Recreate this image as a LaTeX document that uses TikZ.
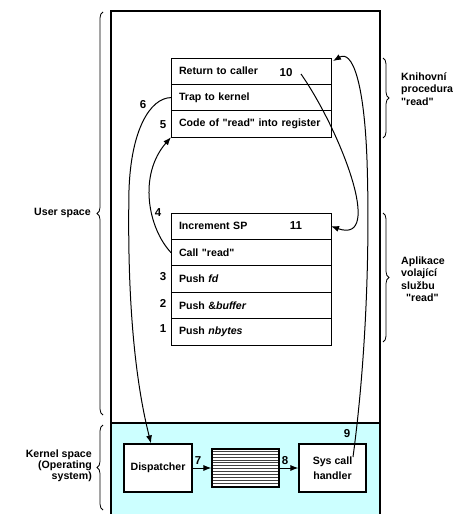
\documentclass[tikz,border=0pt]{standalone}
\usepackage{fontspec}
\setmainfont{Liberation Sans}[Ligatures=TeXOff]
\usetikzlibrary{arrows.meta, positioning, patterns, decorations.pathreplacing, calc}
\definecolor{kernelcyan}{HTML}{CCFFFF}

\begin{document}
\begin{tikzpicture}[
    x=1bp, y=-1bp,
    font=\fontsize{10.6bp}{11bp}\selectfont\bfseries,
    cell/.style={draw, line width=0.9bp, outer sep=0pt, minimum width=160bp, minimum height=26.4bp, text width=144bp, inner xsep=8bp, inner ysep=0pt, align=left},
    kbox/.style={draw, line width=1.1bp, fill=white, minimum width=68bp, minimum height=48bp, align=center, inner sep=1bp, font=\fontsize{10.6bp}{15bp}\selectfont\bfseries},
    num/.style={inner sep=0pt, font=\fontsize{11.5bp}{12bp}\selectfont\bfseries},
    side/.style={inner sep=0pt, font=\fontsize{10.6bp}{12.5bp}\selectfont\bfseries},
    flow/.style={-{Latex[length=8bp,width=6bp]}, line width=1bp},
    curly/.style={decorate, decoration={brace, amplitude=6bp}, line width=0.8bp},
]
    \useasboundingbox (0,0) rectangle (459,514);

    % kernel area and frame
    \fill[kernelcyan] (111,423) rectangle (380,514);
    \draw[line width=1.3bp] (111,514) -- (111,11) -- (380,11) -- (380,514);
    \draw[line width=1.3bp] (111,423) -- (380,423);

    % library procedure "read"
    \node[cell] (ret) at (251,71.2) {Return to caller};
    \node[cell, below=0pt of ret] (trap) {Trap to kernel};
    \node[cell, below=0pt of trap] (code) {Code of "read" into register};

    % calling application
    \node[cell] (inc) at (251,226.2) {Increment SP};
    \node[cell, below=0pt of inc] (call) {Call "read"};
    \node[cell, below=0pt of call] (pfd) {Push \textit{fd}};
    \node[cell, below=0pt of pfd] (pbuf) {Push \&\textit{buffer}};
    \node[cell, below=0pt of pbuf] (pnb) {Push \textit{nbytes}};

    % kernel boxes
    \node[kbox] (disp) at (158,468) {Dispatcher};
    \node[draw, line width=1.1bp, preaction={fill=white}, pattern=horizontal lines, pattern color=black!75, minimum width=67bp, minimum height=38bp] (tbl) at (245.5,468) {};
    \node[kbox, minimum width=67bp] (hnd) at (332.5,468) {Sys call\\handler};

    % step numbers
    \node[num] (n1) at (163,329) {1};
    \node[num] (n2) at (163,303) {2};
    \node[num] (n3) at (163,277) {3};
    \node[num] (n4) at (158,213) {4};
    \node[num] (n5) at (163,125) {5};
    \node[num] (n6) at (143,105) {6};
    \node[num] (n7) at (198,461) {7};
    \node[num] (n8) at (285,461) {8};
    \node[num] (n9) at (347,434) {9};
    \node[num] (n10) at (286,73) {10};
    \node[num] (n11) at (296,226) {11};
    \coordinate (c10) at (301,74);
    \coordinate (c9) at (353,457);

    % connections
    \draw[flow] (call.west) .. controls (148,228) and (138,175) .. (code.south west);
    \draw[flow] (trap.west) .. controls (150,98) and (131,130) .. (129,190)
        .. controls (127,300) and (135,380) .. ([xshift=-7bp]disp.north);
    \draw[flow] (disp) -- (tbl);
    \draw[flow] (tbl) -- (hnd);
    \draw[flow] (c9) .. controls (366,360) and (370,250) .. (367,160)
        .. controls (364,80) and (352,50) .. ([xshift=2bp,yshift=-3bp]ret.north east);
    \draw[flow] (c10) .. controls (340,130) and (385,245) .. (inc.east);

    % braces and their labels
    \draw[curly] (103,415) -- (103,12);
    \draw[curly] (103,510) -- (103,425);
    \draw[curly] (383,58) -- (383,138);
    \draw[curly] (383,213) -- (383,342);
    \node[side, anchor=east] (usr) at (91,213) {User space};
    \node[side, anchor=east, align=right, font=\fontsize{10.6bp}{11bp}\selectfont\bfseries] (krn) at (92,466) {Kernel space\\(Operating\\system)};
    \node[side, anchor=west, align=left] (lib) at (401,89) {Knihovní\\procedura\\"read"};
    \node[side, anchor=west, align=left] (app) at (401,279) {Aplikace\\volající\\službu\\\hspace*{5bp}"read"};
\end{tikzpicture}
\end{document}
